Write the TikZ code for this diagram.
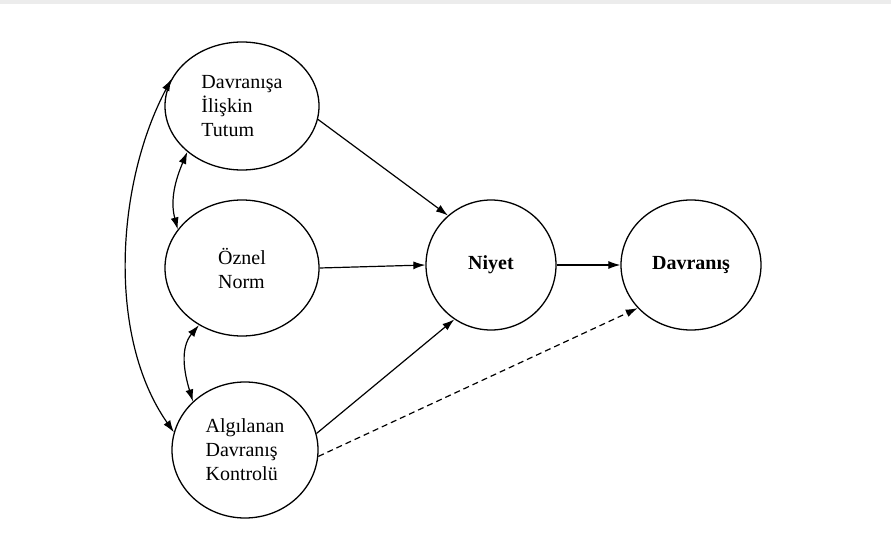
\documentclass[tikz,border=0pt]{standalone}
\usepackage{fontspec}
\setmainfont{Liberation Serif}
\newfontfamily\diagserif{Liberation Serif}
\usetikzlibrary{arrows.meta, shapes.geometric}

\begin{document}
\begin{tikzpicture}[x=1pt, y=1pt,
  oval/.style={draw, ellipse, line width=1.3pt, inner sep=0pt, align=left, font=\diagserif\fontsize{20}{24}\selectfont},
  link/.style={line width=1.2pt, -{Latex[length=12pt,width=8pt]}},
  both/.style={line width=1.2pt, {Latex[length=12pt,width=8pt]}-{Latex[length=12pt,width=8pt]}}]
\useasboundingbox (0,0) rectangle (891,547);
\fill[gray!15] (0,543) rectangle (891,547);
\node[oval, minimum width=154pt, minimum height=128pt] (tutum) at (242,441) {Davranışa\\İlişkin\\Tutum};
\node[oval, minimum width=154pt, minimum height=136pt] (norm) at (242,279) {Öznel\\Norm};
\node[oval, minimum width=146pt, minimum height=136pt] (alg) at (245,97) {Algılanan\\Davranış\\Kontrolü};
\node[oval, minimum width=130pt, minimum height=130pt, font=\diagserif\fontsize{20}{24}\selectfont\bfseries] (niyet) at (491,282) {Niyet};
\node[oval, minimum width=140pt, minimum height=130pt, font=\diagserif\fontsize{20}{24}\selectfont\bfseries] (davr) at (691,282) {Davranış};
\draw[link] (tutum.-10) -- (niyet.131);
\draw[link] (norm.east) -- (niyet.west);
\draw[link] (alg.13) -- (niyet.-124);
\draw[link] (niyet.east) -- (davr.west);
\draw[link, dash pattern=on 6pt off 4pt] (alg.-5) -- (davr.-141);
\draw[both] (tutum.159) to[out=242, in=125, looseness=0.85] (alg.166);
\draw[both] (tutum.-140) to[out=247, in=105] (norm.149);
\draw[both] (norm.-127) to[out=230, in=107] (alg.137);
\end{tikzpicture}
\end{document}
